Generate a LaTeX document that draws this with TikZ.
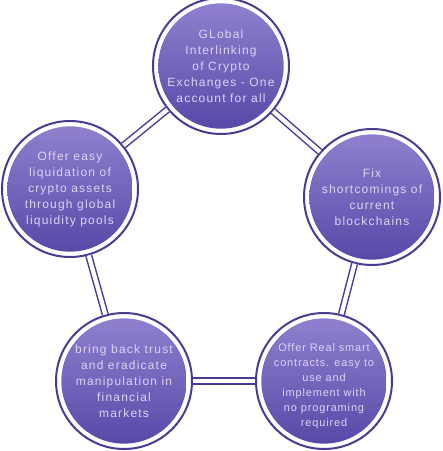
\documentclass[tikz,border=0pt]{standalone}
\usepackage{fontspec}
\setmainfont{Liberation Sans}[LetterSpace=10]
\newfontfamily\smallgoalfont{Liberation Sans}[LetterSpace=8]
\definecolor{ringc}{HTML}{4A3A96}
\definecolor{topc}{HTML}{9282D0}
\definecolor{botc}{HTML}{5646A6}
\definecolor{txtc}{HTML}{DCD4F4}
\begin{document}
\begin{tikzpicture}[x=0.75pt,y=-0.75pt,line join=round,line cap=round,font=\fontsize{9}{12}\selectfont]
			\tikzset{goal/.style={circle,draw=ringc,line width=1.5pt,minimum size=102pt,inner sep=0pt,
				path picture={\shade[top color=topc,bottom color=botc] (path picture bounding box.center) circle (47pt);}},
				goaltext/.style={text=txtc,align=center},
				link/.style={draw=ringc,line width=1.1pt,double=white,double distance=3.2pt,line cap=butt}}
			\useasboundingbox (0,0) rectangle (443,451);
			\node[goal] (top) at (221,66) {};
			\node[goal] (rgt) at (372,197) {};
			\node[goal] (brt) at (324,381) {};
			\node[goal] (blt) at (124,381) {};
			\node[goal] (lft) at (70,189) {};
			\foreach \a/\b in {top/rgt,rgt/brt,brt/blt,blt/lft,lft/top}
				\draw[link] (\a) -- (\b);
			\node[goaltext] at (top) {GLobal\\Interlinking\\of Crypto\\Exchanges - One\\account for all};
			\node[goaltext] at (rgt) {Fix\\shortcomings of\\current\\blockchains};
			\node[goaltext,font=\smallgoalfont\fontsize{8.2}{11.3}\selectfont] at ([yshift=-4]brt) {Offer Real smart\\contracts. easy to\\use and\\implement with\\no programing\\required};
			\node[goaltext] at (blt) {bring back trust\\and eradicate\\manipulation in\\financial\\markets};
			\node[goaltext] at (lft) {Offer easy\\liquidation of\\crypto assets\\through global\\liquidity pools};
		\end{tikzpicture}
\end{document}
